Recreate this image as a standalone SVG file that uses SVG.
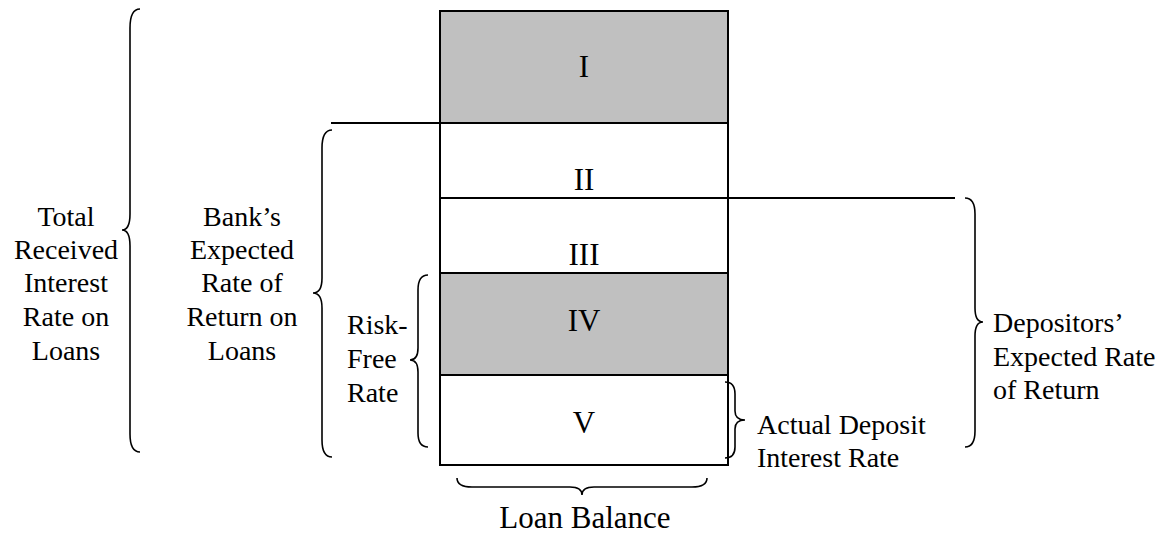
<svg xmlns="http://www.w3.org/2000/svg" width="1167" height="537" viewBox="0 0 1167 537">
<style>
text{font-family:"Liberation Serif","Times New Roman",serif;fill:#000}
.lbl{font-size:28px}
.num{font-size:31px;text-anchor:middle}
.mid{text-anchor:middle}
.ln{stroke:#000;stroke-width:2;fill:none}
.br{stroke:#000;stroke-width:1.6;fill:none}
.gray{fill:#c0c0c0}
</style>
<rect width="1167" height="537" fill="#fff"/>
<g id="bar">
<rect class="gray" x="440" y="11" width="288" height="112"/>
<rect class="gray" x="440" y="273" width="288" height="102"/>
<rect class="ln" x="440" y="11" width="288" height="454"/>
<line class="ln" x1="331" y1="123" x2="728" y2="123"/>
<line class="ln" x1="440" y1="198" x2="955" y2="198"/>
<line class="ln" x1="440" y1="273" x2="728" y2="273"/>
<line class="ln" x1="440" y1="375" x2="728" y2="375"/>
</g>
<g id="seg-I"><text class="num" x="584" y="77">I</text></g>
<g id="seg-II"><text class="num" x="584" y="190">II</text></g>
<g id="seg-III"><text class="num" x="584" y="265">III</text></g>
<g id="seg-IV"><text class="num" x="584" y="331">IV</text></g>
<g id="seg-V"><text class="num" x="584" y="433">V</text></g>
<g id="connectors">
<path class="br" d="M140,9 Q130,9 130,28 L130,214 Q130,230 122,230 Q130,230 130,246 L130,434 Q130,452 140,452"/>
<path class="br" d="M332,130 Q322,130 322,148 L322,278 Q322,293 313,293 Q322,293 322,308 L322,440 Q322,457 332,457"/>
<path class="br" d="M428,275 Q418,275 418,290 L418,348 Q418,360 410,360 Q418,360 418,372 L418,433 Q418,447 428,447"/>
<path class="br" d="M725,382 Q735,382 735,394 L735,411 Q735,420 745,420 Q735,420 735,429 L735,447 Q735,458 725,458"/>
<path class="br" d="M965,198 Q975,198 975,214 L975,308 Q975,322 983,322 Q975,322 975,336 L975,431 Q975,447 965,447"/>
<path class="br" d="M457,478 Q457,487 472,487 L570,487 Q582,487 582,495 Q582,487 594,487 L692,487 Q707,487 707,478"/>
</g>
<g id="label-total">
<text class="lbl mid" x="66" y="226">Total</text>
<text class="lbl mid" x="66" y="259">Received</text>
<text class="lbl mid" x="66" y="292">Interest</text>
<text class="lbl mid" x="66" y="326">Rate on</text>
<text class="lbl mid" x="66" y="360">Loans</text>
</g>
<g id="label-bank">
<text class="lbl mid" x="242" y="226">Bank’s</text>
<text class="lbl mid" x="242" y="259">Expected</text>
<text class="lbl mid" x="242" y="292">Rate of</text>
<text class="lbl mid" x="242" y="326">Return on</text>
<text class="lbl mid" x="242" y="360">Loans</text>
</g>
<g id="label-riskfree">
<text class="lbl" x="347" y="334">Risk-</text>
<text class="lbl" x="347" y="368">Free</text>
<text class="lbl" x="347" y="402">Rate</text>
</g>
<g id="label-actual">
<text class="lbl" x="757" y="434">Actual Deposit</text>
<text class="lbl" x="757" y="467">Interest Rate</text>
</g>
<g id="label-depositors">
<text class="lbl" x="993" y="332">Depositors’</text>
<text class="lbl" x="993" y="366">Expected Rate</text>
<text class="lbl" x="993" y="399">of Return</text>
</g>
<g id="label-loan"><text class="num" x="585" y="528">Loan Balance</text></g>
</svg>
